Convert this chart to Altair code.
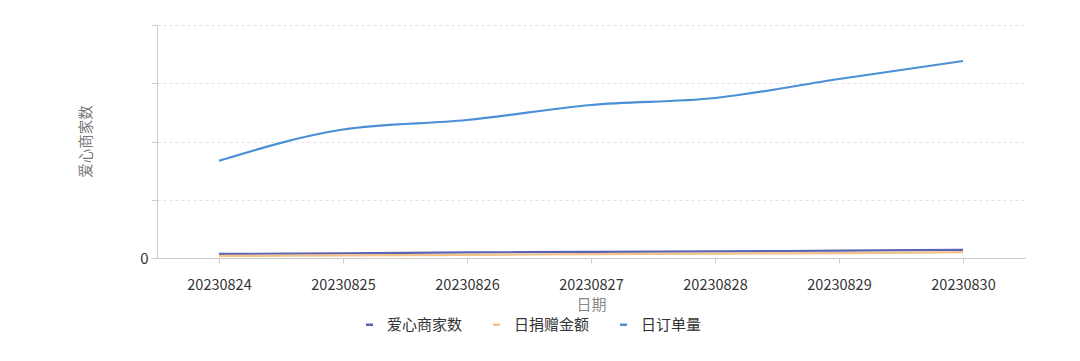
import altair as alt
import pandas as pd

dates = ["20230824", "20230825", "20230826", "20230827", "20230828", "20230829", "20230830"]
series_names = ["爱心商家数", "日捐赠金额", "日订单量"]
merchants = [70, 80, 95, 105, 115, 125, 140]
donations = [35, 45, 55, 65, 75, 85, 100]
orders = [1670, 2206, 2369, 2627, 2747, 3073, 3382]
colors = ["#5b63b7", "#f2c287", "#4b8fd6"]

rows = []
for name, vals in zip(series_names, [merchants, donations, orders]):
    for d, v in zip(dates, vals):
        rows.append({"日期": d, "系列": name, "值": v})
df = pd.DataFrame(rows)

font = "Noto Sans CJK SC"

chart = alt.Chart(df).mark_line(interpolate="monotone", strokeWidth=2.2).encode(
    x=alt.X("日期:N", sort=dates,
            scale=alt.Scale(type="point", padding=0.5),
            axis=alt.Axis(title="日期", labelAngle=0, labelFontSize=14.5, labelColor="#333",
                          labelFont=font, titleFont=font, titleFontSize=15,
                          titleColor="#888", titleFontWeight="normal",
                          labelPadding=15, titlePadding=6, tickSize=5,
                          domainColor="#ccc", tickColor="#ccc", grid=False)),
    y=alt.Y("值:Q", scale=alt.Scale(domain=[0, 4000], nice=False),
            axis=alt.Axis(title="爱心商家数", values=[0, 1000, 2000, 3000, 4000],
                          labelExpr="datum.value == 0 ? '0' : ''",
                          labelFontSize=15, labelColor="#333", labelFont=font,
                          titleFont=font, titleFontSize=14.5, titleColor="#777",
                          titleFontWeight="normal", titleX=-64, titleY=116,
                          tickSize=6, labelPadding=3, domainColor="#ccc",
                          tickColor="#ccc", grid=True, gridColor="#e2e2e2",
                          gridDash=[3, 3])),
    color=alt.Color("系列:N", sort=series_names,
                    scale=alt.Scale(domain=series_names, range=colors),
                    legend=alt.Legend(title=None, orient="none", direction="horizontal",
                                      columns=3, legendX=205, legendY=292,
                                      symbolType="stroke", symbolSize=49,
                                      symbolStrokeWidth=2.5, labelFontSize=15,
                                      labelFont=font, labelColor="#333",
                                      labelOffset=10, columnPadding=25)),
).properties(
    width=868, height=233,
    autosize=alt.AutoSizeParams(type="none"),
    padding={"left": 149, "top": 17, "right": 47, "bottom": 95},
    background="white",
).configure_view(stroke=None)

chart.save("out.html", embed_options={"renderer": "svg", "actions": False})
